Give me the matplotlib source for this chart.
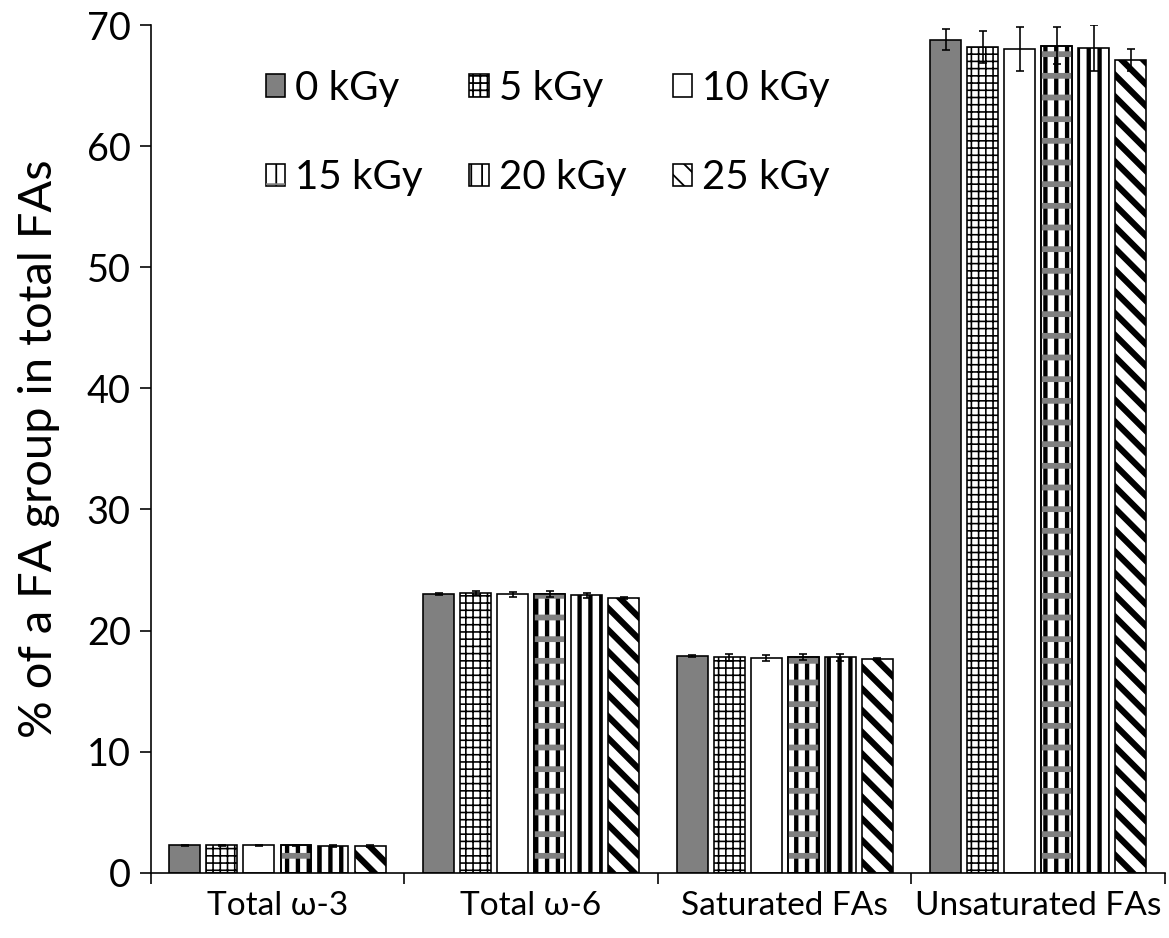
import matplotlib
matplotlib.use("Agg")
import matplotlib.pyplot as plt
import numpy as np

groups = ["Total ω-3", "Total ω-6", "Saturated FAs", "Unsaturated FAs"]
doses = ["0 kGy", "5 kGy", "10 kGy", "15 kGy", "20 kGy", "25 kGy"]

# mean % per dose, ordered by group
means = {
    "0 kGy": [2.25, 23.0, 17.9, 68.8],
    "5 kGy": [2.25, 23.1, 17.8, 68.2],
    "10 kGy": [2.25, 23.0, 17.75, 68.0],
    "15 kGy": [2.25, 23.0, 17.8, 68.3],
    "20 kGy": [2.2, 22.9, 17.8, 68.1],
    "25 kGy": [2.2, 22.7, 17.65, 67.1],
}
errors = {
    "0 kGy": [0.05, 0.1, 0.1, 0.85],
    "5 kGy": [0.05, 0.2, 0.3, 1.3],
    "10 kGy": [0.05, 0.2, 0.25, 1.8],
    "15 kGy": [0.05, 0.25, 0.25, 1.55],
    "20 kGy": [0.05, 0.2, 0.3, 1.9],
    "25 kGy": [0.05, 0.1, 0.12, 0.9],
}

# face colour, hatch, hatch linewidth
styles = {
    "0 kGy": ("#808080", "", 0.8),
    "5 kGy": ("white", "+++", 0.9),
    "10 kGy": ("white", "", 0.8),
    "15 kGy": ("white", "||", 2.4),
    "20 kGy": ("white", "||", 2.4),
    "25 kGy": ("white", "\\\\", 3.4),
}

DPI = 130
plt.rcParams["font.family"] = ["Lato", "DejaVu Sans"]

fig = plt.figure(figsize=(1169 / DPI, 938 / DPI), dpi=DPI)
ax = fig.add_axes([0.1289, 0.0696, 0.9966 - 0.1289, 0.9733 - 0.0696])


def hatched_bar(pos, heights, face, edge, hatch, hlw, lw, zorder):
    with plt.rc_context({"hatch.linewidth": hlw}):
        bars = ax.bar(pos, heights, width=width, color=face, edgecolor=edge,
                      linewidth=lw, hatch=hatch, zorder=zorder)
        for b in bars:
            if hasattr(b, "set_hatch_linewidth"):
                b.set_hatch_linewidth(hlw)
    return bars


x = np.arange(len(groups))
pitch = 0.146
width = 0.122
handles = {}
for i, dose in enumerate(doses):
    face, hatch, hlw = styles[dose]
    pos = x + (i - 2.5) * pitch
    bars = hatched_bar(pos, means[dose], face, "black", hatch, hlw, 0.9, 2)
    if dose == "15 kGy":
        # fine checker bands across the stripes, drawn as grey lines
        over = hatched_bar(pos, means[dose], "none", "#808080", "-", 3.2, 0, 2.5)
        hatched_bar(pos, means[dose], "none", "black", "", 0.8, 0.9, 2.6)
        handles[dose] = (bars, over)
    else:
        handles[dose] = bars
    ax.errorbar(pos, means[dose], yerr=errors[dose], fmt="none", ecolor="black",
                elinewidth=0.9, capsize=2.3, capthick=0.9, zorder=3)

ax.set_xlim(-0.5, len(groups) - 0.5)
ax.set_ylim(0, 70)
ax.set_yticks(range(0, 71, 10))
ax.set_xticks(x)
ax.set_xticklabels(groups, fontsize=18.5)
ax.set_xticks(np.arange(len(groups) + 1) - 0.5, minor=True)
ax.tick_params(axis="x", which="major", length=0, pad=10)
ax.tick_params(axis="x", which="minor", length=6, width=0.9, direction="out")
ax.tick_params(axis="y", length=6, width=0.9, direction="out", labelsize=21, pad=5)
for side in ["top", "right"]:
    ax.spines[side].set_visible(False)
for side in ["left", "bottom"]:
    ax.spines[side].set_linewidth(0.9)
ax.set_ylabel("% of a FA group in total FAs", fontsize=26, labelpad=15)

order = ["0 kGy", "15 kGy", "5 kGy", "20 kGy", "10 kGy", "25 kGy"]
ax.legend([handles[d] for d in order], order, ncol=3, loc="upper left",
          bbox_to_anchor=(0.078, 0.99), frameon=False, fontsize=22.3,
          handlelength=0.48, handleheight=0.48, handletextpad=0.25,
          columnspacing=1.15, labelspacing=1.3)

fig.savefig("out.png", dpi=DPI)
plt.close(fig)
